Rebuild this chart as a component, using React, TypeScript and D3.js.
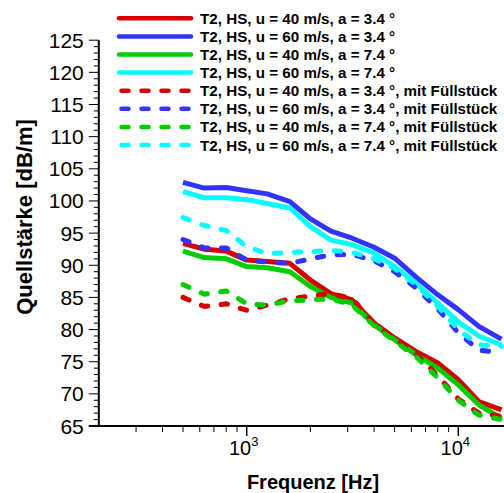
import React from "react";
import * as d3 from "d3";

const freqs = [500, 630, 800, 1000, 1250, 1600, 2000, 2500, 3150, 4000, 5000, 6300, 8000, 10000, 12500, 16000];

const red40a34 = [93.4, 92.5, 92.2, 90.8, 90.6, 90.3, 87.7, 85.6, 84.6, 81.0, 78.7, 76.6, 74.8, 72.2, 68.8, 67.5];
const blue60a34 = [102.9, 102.0, 102.1, 101.6, 101.1, 99.9, 97.2, 95.3, 94.2, 92.8, 91.1, 88.2, 85.4, 83.1, 80.5, 78.5];
const green40a74 = [92.2, 91.2, 91.0, 89.8, 89.6, 89.0, 86.7, 85.0, 84.1, 80.7, 78.4, 76.1, 74.0, 71.4, 68.3, 66.2];
const cyan60a74 = [101.45, 100.5, 100.5, 100.2, 99.6, 98.9, 96.0, 93.9, 93.2, 91.9, 89.8, 87.2, 84.1, 81.2, 79.0, 77.6];
const red40a34F = [85.0, 83.6, 84.0, 83.0, 83.8, 84.8, 85.2, 85.6, 84.8, 81.0, 78.6, 76.3, 72.8, 69.2, 67.0, 66.5];
const blue60a34F = [94.0, 92.7, 92.7, 90.8, 90.5, 90.3, 91.0, 91.6, 91.7, 90.7, 89.0, 86.5, 83.2, 79.5, 76.8, 76.4];
const green40a74F = [87.0, 85.5, 86.0, 84.0, 83.8, 84.5, 84.6, 84.8, 83.8, 80.6, 78.2, 75.8, 72.5, 69.0, 66.7, 66.0];
const cyan60a74F = [97.4, 96.2, 95.4, 92.9, 91.8, 92.0, 92.1, 92.3, 92.0, 91.0, 89.5, 87.0, 83.6, 80.0, 77.6, 77.4];

const seriesLabels = [
  "T2, HS, u = 40 m/s, a = 3.4 °",
  "T2, HS, u = 60 m/s, a = 3.4 °",
  "T2, HS, u = 40 m/s, a = 7.4 °",
  "T2, HS, u = 60 m/s, a = 7.4 °",
  "T2, HS, u = 40 m/s, a = 3.4 °, mit Füllstück",
  "T2, HS, u = 60 m/s, a = 3.4 °, mit Füllstück",
  "T2, HS, u = 40 m/s, a = 7.4 °, mit Füllstück",
  "T2, HS, u = 60 m/s, a = 7.4 °, mit Füllstück",
];
const seriesValues = [red40a34, blue60a34, green40a74, cyan60a74, red40a34F, blue60a34F, green40a74F, cyan60a74F];
const seriesColors = ["#d40000", "#3333ff", "#00cc00", "#00ffff", "#d40000", "#3333ff", "#00cc00", "#00ffff"];
const seriesDashed = [false, false, false, false, true, true, true, true];

const yTicks = [65, 70, 75, 80, 85, 90, 95, 100, 105, 110, 115, 120, 125];
const xMajor = [1000, 10000];
const xMajorExp = ["3", "4"];

const W = 504;
const H = 493;
const FONT = "'Liberation Sans', Arial, Helvetica, sans-serif";

export default function App() {
  const x = d3.scaleLog().domain([200, 20000]).range([98.8, 522]);
  const y = d3.scaleLinear().domain([65, 125]).range([426, 40.2]);
  const line = d3
    .line<number>()
    .x((_, i) => x(freqs[i]))
    .y((v) => y(v));

  const yMinor = d3.range(65, 126, 1);
  const xMinor: number[] = [];
  [100, 1000, 10000].forEach((d) => {
    for (let k = 2; k <= 9; k++) {
      const f = d * k;
      if (f > 200 && f <= 20000) xMinor.push(f);
    }
  });

  const x0 = x(200);
  const yBase = y(65);
  const order = [0, 1, 2, 3, 4, 5, 6, 7];

  return (
    <svg width={W} height={H} style={{ position: "absolute", left: 0, top: 0, background: "#fff" }} fontFamily={FONT}>
      <rect x={0} y={0} width={W} height={H} fill="#fff" />
      <defs>
        <clipPath id="clip">
          <rect x={x0} y={0} width={W} height={yBase} />
        </clipPath>
      </defs>
      {/* lines */}
      <g clipPath="url(#clip)">
        {order.map((i) => (
          <path
            key={i}
            d={line(seriesValues[i]) || ""}
            fill="none"
            stroke={seriesColors[i]}
            strokeWidth={5}
            strokeLinejoin="round"
            strokeLinecap={seriesDashed[i] ? "round" : "butt"}
            strokeDasharray={seriesDashed[i] ? "6.5 13.5" : undefined}
          />
        ))}
      </g>
      {/* y axis */}
      <line x1={x0} x2={x0} y1={y(125)} y2={yBase} stroke="#000" strokeWidth={2} />
      {yMinor.map((v) => (
        <line key={"ym" + v} x1={x0 - (v % 5 === 0 ? 10 : 5)} x2={x0} y1={y(v)} y2={y(v)} stroke="#000" strokeWidth={1} />
      ))}
      {yTicks.map((v) => (
        <text key={"yt" + v} x={x0 - 15} y={y(v)} textAnchor="end" dominantBaseline="central" fontSize={21} fill="#000">
          {v}
        </text>
      ))}
      {/* x axis */}
      <line x1={x0 - 10} x2={W} y1={yBase} y2={yBase} stroke="#000" strokeWidth={2} />
      {xMinor.map((f) => (
        <line key={"xm" + f} x1={x(f)} x2={x(f)} y1={yBase} y2={yBase + 6} stroke="#000" strokeWidth={1} />
      ))}
      {xMajor.map((f, i) => (
        <g key={"xM" + f}>
          <line x1={x(f)} x2={x(f)} y1={yBase} y2={yBase + 10} stroke="#000" strokeWidth={1.5} />
          <text x={x(f) - 3} y={455} textAnchor="middle" fontSize={20} fill="#000">
            10
            <tspan fontSize={13} dy={-9}>
              {xMajorExp[i]}
            </tspan>
          </text>
        </g>
      ))}
      {/* axis titles */}
      <text x={313} y={489} textAnchor="middle" fontSize={20} fontWeight="bold" fill="#000">
        Frequenz [Hz]
      </text>
      <text
        transform={`translate(32,217) rotate(-90)`}
        textAnchor="middle"
        fontSize={22}
        fontWeight="bold"
        fill="#000"
      >
        Quellstärke [dB/m]
      </text>
      {/* legend */}
      {seriesLabels.map((lab, i) => {
        const ly = 18.3 + i * 18.1;
        return (
          <g key={"lg" + i}>
            <line
              x1={seriesDashed[i] ? 121.5 : 119}
              x2={seriesDashed[i] ? 188.5 : 191}
              y1={ly}
              y2={ly}
              stroke={seriesColors[i]}
              strokeWidth={4.5}
              strokeLinecap="round"
              strokeDasharray={seriesDashed[i] ? "7 13" : undefined}
            />
            <text x={200} y={ly} dominantBaseline="central" fontSize={15.2} fontWeight="bold" fill="#000">
              {lab}
            </text>
          </g>
        );
      })}
    </svg>
  );
}
